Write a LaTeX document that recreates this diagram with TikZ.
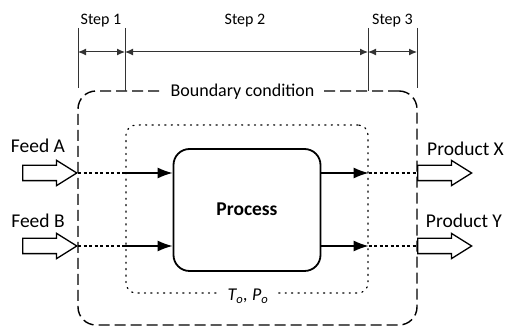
\documentclass[tikz,border=0pt]{standalone}
\usepackage{fontspec}
\setmainfont{Carlito}
\usetikzlibrary{shapes.arrows,arrows.meta}

\begin{document}
\begin{tikzpicture}[x=1pt, y=-1pt,
  procbox/.style={draw, line width=1.8pt, rounded corners=16pt,
                  minimum width=147pt, minimum height=122pt},
  bndbox/.style={draw, line width=1.4pt, rounded corners=18pt,
                 dash pattern=on 11pt off 5pt,
                 minimum width=339pt, minimum height=234pt},
  envbox/.style={draw, line width=1.2pt, rounded corners=10pt,
                 dash pattern=on 1.2pt off 5.2pt, line cap=round,
                 minimum width=242pt, minimum height=168pt},
  blockarr/.style={single arrow, draw, line width=1.3pt,
                   inner xsep=0pt, inner ysep=7pt,
                   minimum height=54pt,
                   single arrow head extend=5pt, single arrow tip angle=64},
  flow/.style={line width=1.4pt, -{Latex[length=15pt,width=11pt]}},
  dotflow/.style={line width=1.2pt, dash pattern=on 3pt off 2.5pt},
  dimline/.style={line width=1pt, black!80},
  dimarr/.style={line width=1pt, black!80, {Latex[length=8pt,width=7pt]}-{Latex[length=8pt,width=7pt]}},
  lbl/.style={anchor=base, font=\fontsize{19.5}{22}\selectfont},
  steplbl/.style={anchor=base, font=\fontsize{16}{18}\selectfont},
]
\useasboundingbox (0,0) rectangle (507,328);

% ---- Boundaries ----
\node[bndbox] (bnd) at (247.5,208) {};
\node[envbox] (env) at (247,209) {};
\node[anchor=base, fill=white, inner xsep=10pt, font=\fontsize{18}{20}\selectfont]
  (bndlbl) at (242.5,97) {Boundary condition};
\node[anchor=base, fill=white, inner xsep=8pt, font=\fontsize{18}{20}\selectfont\itshape]
  (envlbl) at (248,301) {T\textsubscript{o}, P\textsubscript{o}};

% ---- Process ----
\node[procbox] (proc) at (247,210) {};
\node[lbl, font=\fontsize{19.5}{22}\selectfont\bfseries] (proclbl) at (247,216) {Process};

% ---- Steps ----
\coordinate (s0) at (78,28);
\coordinate (s1) at (125,28);
\coordinate (s2) at (368,28);
\coordinate (s3) at (417,28);
\coordinate (e0) at (78,88);
\coordinate (e1) at (125,91);
\coordinate (e2) at (368,91);
\coordinate (e3) at (417,88);
\draw[dimline] (s0) -- (e0);
\draw[dimline] (s1) -- (e1);
\draw[dimline] (s2) -- (e2);
\draw[dimline] (s3) -- (e3);

\coordinate (m0) at (78,52);
\coordinate (m1) at (125,52);
\coordinate (m2) at (368,52);
\coordinate (m3) at (417,52);
\draw[dimarr] (m0) -- (m1);
\draw[dimarr] (m1) -- (m2);
\draw[dimarr] (m2) -- (m3);

\node[steplbl] (st1) at (101,25) {Step 1};
\node[steplbl] (st2) at (245,25) {Step 2};
\node[steplbl] (st3) at (392.5,25) {Step 3};

% ---- Feeds ----
\node[blockarr, anchor=tip] (fa) at (78,173) {};
\node[blockarr, anchor=tip] (fb) at (78,246) {};
\node[lbl] (fal) at (38,153) {Feed A};
\node[lbl] (fbl) at (38,228) {Feed B};

\draw[dotflow] (fa.tip) -- (fa.tip -| env.west);
\draw[flow] (fa.tip -| env.west) -- (fa.tip -| proc.west);
\draw[dotflow] (fb.tip) -- (fb.tip -| env.west);
\draw[flow] (fb.tip -| env.west) -- (fb.tip -| proc.west);

% ---- Products ----
\node[blockarr, anchor=tail] (px) at (417,173) {};
\node[blockarr, anchor=tail] (py) at (417,246) {};
\node[lbl] (pxl) at (465.5,156) {Product X};
\node[lbl] (pyl) at (464,228) {Product Y};

\draw[flow] (px.tail -| proc.east) -- (px.tail -| env.east);
\draw[dotflow] (px.tail -| env.east) -- (px.tail);
\draw[flow] (py.tail -| proc.east) -- (py.tail -| env.east);
\draw[dotflow] (py.tail -| env.east) -- (py.tail);

\end{tikzpicture}
\end{document}
